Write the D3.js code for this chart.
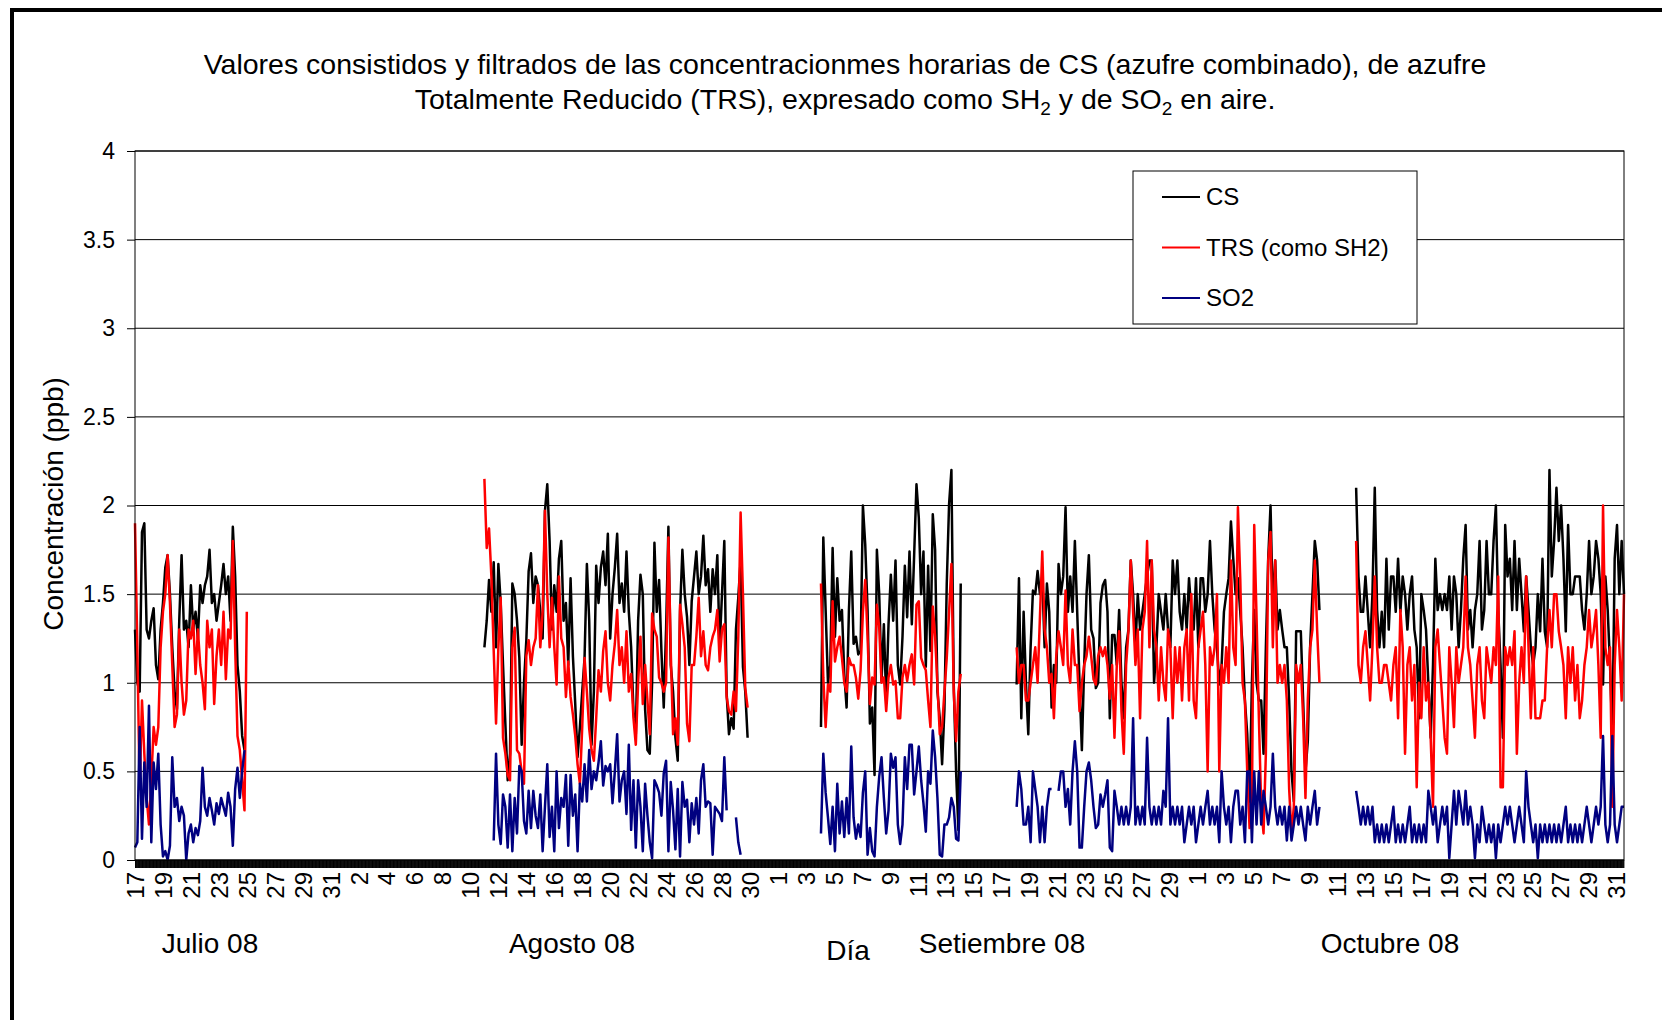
<!DOCTYPE html>
<html>
<head>
<meta charset="utf-8">
<script src="https://cdn.jsdelivr.net/npm/d3@7"></script>
<style>
  body { margin: 0; background: #fff; }
  svg { display: block; font-family: 'Liberation Sans', Arial, sans-serif; }
</style>
</head>
<body>
<svg id="chart" width="1662" height="1020"></svg>
<script>
// readings every 4 hours, one set of arrays per measuring campaign
let stepHours = 4

let csJul = [1.3,1.0,0.95,1.85,1.9,1.3,1.25,1.35,1.42,1.1,1.02,1.3,1.45,1.65,1.72,1.5,1.2,0.95,0.85,1.35,1.72,1.3,1.35,1.2,1.55,1.3,1.4,1.25,1.55,1.45,1.55,1.6,1.75,1.45,1.5,1.35,1.45,1.55,1.67,1.5,1.6,1.35,1.88,1.6,1.1,0.95,0.7,0.62,null]
let trsJul = [1.9,1.2,0.4,0.9,0.6,0.35,0.2,0.45,0.75,0.65,0.75,1.2,1.4,1.5,1.72,1.45,1.1,0.75,0.82,1.3,1.0,0.82,0.9,1.3,1.25,1.35,1.05,1.3,1.1,1.0,0.85,1.35,1.2,1.3,0.88,1.15,1.3,1.1,1.4,1.02,1.3,1.25,1.8,1.2,0.7,0.62,0.45,0.28,1.4]
let so2Jul = [0.07,0.1,0.75,0.12,0.55,0.3,0.87,0.1,0.55,0.4,0.6,0.2,0.02,0.05,0.0,0.08,0.58,0.3,0.35,0.22,0.3,0.25,0.0,0.15,0.2,0.1,0.18,0.14,0.22,0.52,0.3,0.25,0.35,0.28,0.2,0.32,0.26,0.35,0.3,0.25,0.38,0.3,0.08,0.4,0.52,0.35,0.5,0.62,null]

let csAug = [1.2,1.35,1.58,1.4,1.68,1.2,1.67,1.45,1.1,0.77,
  0.45,0.6,1.56,1.5,1.35,1.14,0.65,1.0,1.24,1.63,
  1.73,1.45,1.6,1.55,1.4,1.25,1.97,2.12,1.8,1.3,
  1.55,1.4,1.7,1.8,1.35,1.45,1.1,1.59,1.15,0.88,
  0.58,0.75,0.95,1.14,1.67,1.35,0.65,0.95,1.66,1.45,
  1.65,1.74,1.55,1.84,1.25,1.5,1.65,1.84,1.45,1.56,
  1.4,1.74,1.4,1.2,0.84,0.71,1.35,1.61,1.5,0.85,
  0.62,0.6,1.0,1.79,1.4,1.58,1.18,0.86,1.3,1.88,
  1.1,0.95,0.69,0.56,1.4,1.75,1.5,1.37,1.1,1.46,
  1.6,1.74,1.5,1.6,1.83,1.55,1.64,1.4,1.64,1.5,
  1.72,1.2,1.5,1.8,0.94,0.71,0.8,0.74,1.3,1.48,
  1.69,1.09,0.95,0.69]
let trsAug = [2.15,1.76,1.87,1.6,1.18,0.77,1.2,1.48,0.69,0.6,
  0.48,0.45,1.2,1.31,0.62,0.6,0.5,0.43,1.15,1.24,
  1.1,1.2,1.25,1.55,1.2,1.4,1.97,1.5,1.2,1.48,
  1.2,0.99,1.6,1.25,1.2,0.92,1.12,0.92,0.82,0.7,
  0.54,0.43,0.75,1.14,0.95,0.74,0.62,0.56,0.8,1.07,
  0.95,1.18,1.29,1.0,0.9,1.1,1.22,1.41,1.1,1.2,
  1.0,1.29,0.95,1.05,0.8,0.65,1.0,1.26,0.88,1.1,
  0.9,0.71,1.39,1.3,1.26,1.03,1.0,0.95,1.0,1.82,
  1.18,0.71,0.8,0.65,1.44,1.33,1.2,0.77,0.67,1.1,
  1.1,1.26,1.48,1.15,1.29,1.1,1.07,1.2,1.26,1.3,
  1.41,1.12,1.3,1.33,0.92,0.84,0.82,0.95,0.84,1.26,
  1.96,1.5,0.97,0.86]
let so2Aug = [null,null,null,null,0.11,0.6,0.2,0.09,0.37,0.3,
  0.07,0.37,0.05,0.35,0.15,0.53,0.5,0.22,0.15,0.39,
  0.18,0.39,0.25,0.18,0.37,0.05,0.3,0.54,0.13,0.3,
  0.05,0.5,0.18,0.35,0.3,0.48,0.08,0.48,0.25,0.37,
  0.05,0.43,0.33,0.54,0.33,0.62,0.4,0.5,0.45,0.55,
  0.67,0.42,0.53,0.5,0.54,0.32,0.5,0.71,0.33,0.45,
  0.5,0.26,0.65,0.17,0.45,0.07,0.45,0.3,0.05,0.43,
  0.25,0.1,0.01,0.45,0.42,0.38,0.25,0.49,0.56,0.05,
  0.44,0.28,0.06,0.4,0.02,0.44,0.3,0.34,0.1,0.32,
  0.2,0.35,0.15,0.45,0.54,0.3,0.33,0.32,0.03,0.3,
  0.28,0.26,0.22,0.58,0.28,null,null,null,0.24,0.1,
  0.03,null,null,null]

let csSep1 = [0.75,1.82,1.41,1.0,1.1,1.76,1.26,1.59,1.35,1.41,
  1.05,0.86,1.41,1.74,1.22,1.26,1.16,1.18,2.0,1.78,
  1.41,0.77,0.86,0.48,1.75,1.5,1.01,1.33,0.9,1.33,
  1.61,1.35,1.69,1.1,0.99,1.26,1.66,1.37,1.74,1.33,
  1.72,2.12,1.93,1.5,1.74,1.09,1.66,1.18,1.95,1.75,
  0.95,0.8,0.54,0.85,1.56,2.01,2.2,0.99,0.5,0.17,
  1.56]
let trsSep1 = [1.56,1.03,0.75,0.99,0.95,1.46,1.12,1.2,1.26,1.14,
  1.0,0.95,1.14,1.1,1.1,1.03,0.91,1.07,1.4,1.58,
  1.26,0.88,1.03,0.99,1.44,1.31,1.0,1.03,0.84,1.03,
  1.1,0.99,1.01,0.8,0.8,1.03,1.1,1.01,1.1,1.16,
  0.99,1.44,1.46,1.14,1.1,1.07,0.9,0.75,1.43,1.26,
  0.99,0.71,0.75,0.95,1.14,1.4,1.67,0.95,0.67,0.95,
  1.05]
let so2Sep1 = [0.15,0.6,0.38,0.24,0.09,0.3,0.05,0.43,0.15,0.33,
  0.13,0.35,0.15,0.64,0.24,0.12,0.2,0.13,0.38,0.5,
  0.03,0.18,0.05,0.02,0.3,0.47,0.58,0.35,0.15,0.28,
  0.6,0.52,0.58,0.2,0.09,0.2,0.58,0.4,0.65,0.65,
  0.37,0.5,0.64,0.45,0.32,0.16,0.5,0.43,0.73,0.58,
  0.35,0.03,0.02,0.2,0.2,0.24,0.35,0.3,0.12,0.11,
  0.5]

let csSep2 = [0.99,1.59,0.8,1.4,1.0,0.71,1.2,1.52,1.5,1.63,
  1.5,1.6,1.2,1.56,1.4,0.86,1.1,1.0,1.67,1.5,
  1.6,1.99,1.4,1.6,1.4,1.8,1.4,1.0,0.62,1.1,
  1.5,1.72,1.3,1.25,0.97,1.0,1.45,1.55,1.58,1.4,
  0.8,1.27,1.27,1.1,1.41,1.0,0.8,1.2,1.3,1.69,
  1.5,1.2,1.5,1.3,1.4,1.5,1.6,1.69,1.69,1.0,
  1.2,1.5,1.4,1.3,1.5,1.3,1.2,1.69,1.5,1.69,
  1.4,1.3,1.5,1.3,1.59,1.4,1.3,1.59,1.2,1.59,
  1.59,1.4,1.5,1.8,1.5,1.3,1.2,0.99,1.1,1.4,
  1.5,1.59,1.91,1.7,1.5,1.59,1.4,1.2,0.9,0.71,
  0.33,1.0,1.41,1.0,0.9,0.9,0.6,1.2,1.7,2.0,
  1.41,1.69,1.3,1.41,1.3,1.2,1.2,0.9,0.5,0.33,
  1.29,1.29,1.29,0.9,0.5,0.67,1.2,1.5,1.8,1.69,
  1.41]
let trsSep2 = [1.2,1.0,1.1,1.1,0.9,0.9,1.0,1.1,1.2,1.0,
  1.37,1.74,1.3,1.2,1.0,1.05,0.8,1.15,1.29,1.2,
  1.1,1.52,1.1,1.0,1.3,1.1,1.1,0.84,1.0,1.1,
  1.15,1.26,1.15,1.02,0.99,1.15,1.2,1.15,1.2,1.1,
  0.91,1.1,0.69,1.1,1.29,0.84,0.6,1.1,1.29,1.69,
  1.4,1.1,1.3,0.8,1.3,1.4,1.8,1.2,1.69,1.3,
  1.2,0.9,1.2,1.0,0.9,1.3,1.2,0.8,1.2,1.0,
  1.2,0.9,1.2,1.3,0.9,1.5,0.9,0.8,1.2,1.3,
  1.4,1.1,0.5,1.2,1.1,1.2,1.5,0.5,1.1,1.0,
  1.2,1.0,1.69,1.2,1.1,1.99,1.59,1.0,0.9,0.5,
  0.18,0.3,1.89,1.37,0.8,0.3,0.15,0.6,1.69,1.85,
  1.2,1.69,1.0,1.1,1.0,1.1,0.9,0.4,0.15,0.3,
  1.1,1.0,1.1,0.8,0.35,0.9,1.2,1.3,1.69,1.3,
  1.0]
let so2Sep2 = [0.3,0.5,0.4,0.2,0.2,0.3,0.1,0.5,0.4,0.3,
  0.1,0.3,0.1,0.3,0.4,0.4,null,null,0.39,0.5,
  0.5,0.3,0.4,0.2,0.5,0.67,0.5,0.07,0.07,0.3,
  0.5,0.55,0.45,0.3,0.18,0.2,0.37,0.3,0.37,0.45,
  0.07,0.05,0.39,0.3,0.2,0.3,0.2,0.3,0.2,0.3,
  0.8,0.2,0.3,0.2,0.3,0.2,0.69,0.3,0.2,0.3,
  0.2,0.3,0.2,0.39,0.3,0.8,0.2,0.3,0.2,0.3,
  0.2,0.3,0.1,0.2,0.3,0.2,0.3,0.1,0.2,0.3,
  0.2,0.3,0.39,0.2,0.3,0.2,0.3,0.1,0.5,0.3,
  0.2,0.3,0.1,0.3,0.39,0.39,0.2,0.3,0.1,0.5,
  0.5,0.1,0.5,0.2,0.5,0.2,0.39,0.3,0.2,0.3,
  0.6,0.3,0.2,0.3,0.2,0.3,0.11,0.3,0.11,0.2,
  0.3,0.2,0.3,0.2,0.11,0.3,0.2,0.3,0.39,0.2,
  0.3]

let csOct = [2.1,1.6,1.4,1.4,1.6,1.4,1.2,1.5,2.1,1.41,
  1.2,1.4,1.2,1.7,1.3,1.6,1.6,1.4,1.7,1.4,
  1.6,1.5,1.3,1.5,1.6,1.3,1.2,0.8,1.5,1.41,
  1.3,1.0,0.69,1.1,1.7,1.41,1.5,1.41,1.5,1.41,
  1.6,1.3,1.6,1.5,1.2,1.41,1.7,1.89,1.3,1.41,
  1.2,1.41,1.5,1.8,1.3,1.41,1.8,1.5,1.5,1.8,
  2.0,1.41,1.1,0.69,1.89,1.6,1.7,1.41,1.8,1.41,
  1.7,1.5,1.29,1.6,1.41,1.2,1.1,1.2,1.5,1.29,
  1.7,1.29,1.2,2.2,1.6,1.8,2.1,1.8,2.0,1.7,
  1.29,1.89,1.5,1.5,1.6,1.6,1.6,1.41,1.3,1.5,
  1.8,1.5,1.6,1.8,1.7,1.5,0.99,1.6,1.41,1.1,
  0.69,1.7,1.89,1.5,1.8,1.5]
let trsOct = [1.8,1.1,1.0,1.2,1.29,1.1,0.9,1.2,1.6,1.2,
  1.0,1.0,1.1,1.1,1.0,0.9,1.1,1.2,0.8,1.41,
  1.2,0.6,1.1,1.2,0.9,1.1,0.41,1.0,0.8,1.2,
  0.9,1.0,0.69,0.3,1.2,1.3,1.1,0.9,0.69,0.6,
  1.2,1.0,0.75,1.2,1.0,1.1,1.2,1.6,1.2,1.1,
  0.9,0.69,1.1,1.2,0.9,0.8,1.2,1.1,1.0,1.2,
  1.1,1.6,0.41,0.41,1.2,1.1,1.2,1.1,1.29,0.6,
  1.0,1.2,1.0,1.6,1.2,0.8,1.2,0.8,0.8,0.8,
  0.9,0.9,1.2,1.41,1.2,1.5,1.5,1.29,1.2,1.1,
  0.8,1.2,1.0,1.2,0.9,1.1,0.8,0.9,1.1,1.2,
  1.41,1.2,1.29,1.41,1.1,0.69,2.0,1.2,1.1,1.2,
  0.3,1.1,1.41,1.2,0.9,1.5]
let so2Oct = [0.39,0.3,0.2,0.3,0.2,0.3,0.2,0.3,0.1,0.2,
  0.1,0.2,0.1,0.2,0.1,0.2,0.3,0.1,0.2,0.1,
  0.2,0.1,0.2,0.3,0.1,0.2,0.1,0.2,0.1,0.2,
  0.1,0.39,0.3,0.2,0.3,0.1,0.2,0.3,0.2,0.3,
  0.01,0.2,0.39,0.2,0.39,0.3,0.2,0.39,0.2,0.3,
  0.2,0.01,0.2,0.1,0.3,0.2,0.1,0.2,0.1,0.2,
  0.01,0.2,0.1,0.2,0.3,0.2,0.3,0.2,0.1,0.2,
  0.3,0.2,0.1,0.5,0.3,0.2,0.1,0.2,0.01,0.2,
  0.1,0.2,0.1,0.2,0.1,0.2,0.1,0.2,0.1,0.2,
  0.3,0.1,0.2,0.1,0.2,0.1,0.2,0.1,0.2,0.3,
  0.2,0.1,0.2,0.3,0.2,0.3,0.7,0.2,0.1,0.2,
  0.7,0.2,0.1,0.2,0.3,0.3]

// first reading of each campaign (UTC)
let segStarts = ['2008-07-17T00:00Z', '2008-08-11T00:00Z', '2008-09-04T02:00Z', '2008-09-18T02:00Z', '2008-10-12T09:00Z']

let seriesNames = ['CS', 'TRS (como SH2)', 'SO2']
let seriesColors = ['#000000', '#ff0000', '#000080']

let monthLabels = ['Julio 08', 'Agosto 08', 'Setiembre 08', 'Octubre 08']
let yTicks = [0, 0.5, 1, 1.5, 2, 2.5, 3, 3.5, 4]

let segments = [
  [csJul, trsJul, so2Jul],
  [csAug, trsAug, so2Aug],
  [csSep1, trsSep1, so2Sep1],
  [csSep2, trsSep2, so2Sep2],
  [csOct, trsOct, so2Oct]
]

let margin = { top: 151, left: 135, right: 38, bottom: 160 }
let width = 1662
let height = 1020

let svg = d3.select('#chart')

let xStart = new Date(Date.UTC(2008, 6, 17))
let xEnd = new Date(Date.UTC(2008, 9, 31, 13))

let x = d3.scaleUtc()
  .domain([xStart, xEnd])
  .range([margin.left, width - margin.right])

let y = d3.scaleLinear()
  .domain([0, 4])
  .range([height - margin.bottom, margin.top])

// build one long series per pollutant, with breaks between campaigns
let series = seriesNames.map((name, k) => {
  let pts = []
  segments.forEach((seg, s) => {
    let t0 = new Date(segStarts[s])
    seg[k].forEach((v, i) => {
      pts.push({ date: d3.utcHour.offset(t0, i * stepHours), v: v })
    })
    pts.push({ date: null, v: null })
  })
  return { name: name, color: seriesColors[k], values: pts }
})

// outer frame
svg.append('rect')
  .attr('x', 12).attr('y', 10)
  .attr('width', 1700).attr('height', 1100)
  .attr('fill', 'none')
  .attr('stroke', '#000')
  .attr('stroke-width', 4)

// title
let title = svg.append('g')
  .attr('font-size', 28.5)
  .attr('text-anchor', 'middle')

title.append('text')
  .attr('x', 845).attr('y', 74)
  .text('Valores consistidos y filtrados de las concentracionmes horarias de CS (azufre combinado), de azufre')

let t2 = title.append('text').attr('x', 845).attr('y', 109)
t2.append('tspan').text('Totalmente Reducido (TRS), expresado como SH')
t2.append('tspan').attr('font-size', 19).attr('dy', 6).text('2')
t2.append('tspan').attr('dy', -6).text(' y de SO')
t2.append('tspan').attr('font-size', 19).attr('dy', 6).text('2')
t2.append('tspan').attr('dy', -6).text(' en aire.')

// gridlines
svg.append('g')
  .selectAll('line')
  .data(yTicks)
  .enter()
  .append('line')
  .attr('x1', x.range()[0])
  .attr('x2', x.range()[1])
  .attr('y1', d => y(d))
  .attr('y2', d => y(d))
  .attr('stroke', '#000')
  .attr('stroke-width', 1)

// y axis
let yAxis = svg.append('g')
  .attr('transform', `translate(${margin.left},0)`)
  .call(d3.axisLeft(y).tickValues(yTicks).tickSize(8).tickPadding(12).tickFormat(d => String(d)))

yAxis.select('.domain').remove()
yAxis.selectAll('line').attr('stroke', '#000')
yAxis.selectAll('text')
  .attr('font-size', 23)
  .attr('font-family', "'Liberation Sans', Arial, sans-serif")
  .attr('fill', '#000')

// lines
let line = d3.line()
  .defined(d => d.v != null)
  .x(d => x(d.date))
  .y(d => y(d.v))

svg.append('g')
  .selectAll('path')
  .data(series)
  .enter()
  .append('path')
  .attr('d', d => line(d.values))
  .attr('fill', 'none')
  .attr('stroke', d => d.color)
  .attr('stroke-width', 2.5)
  .attr('stroke-linejoin', 'round')

// hourly ticks make the black band under the plot
let bandAxis = svg.append('g')
  .attr('transform', `translate(0,${y(0)})`)
  .call(d3.axisBottom(x).tickValues(d3.utcHour.range(xStart, xEnd)).tickSize(8).tickFormat(''))
bandAxis.select('.domain').remove()
bandAxis.selectAll('line').attr('stroke', '#000')

// day labels every 2 days
let dayTicks = d3.utcDay.range(xStart, xEnd).filter((d, i) => i % 2 === 0)
let dayAxis = svg.append('g')
  .attr('transform', `translate(0,${y(0)})`)
  .call(d3.axisBottom(x).tickValues(dayTicks).tickSize(0).tickFormat(d3.utcFormat('%-d')))
dayAxis.select('.domain').remove()
dayAxis.selectAll('text')
  .attr('font-size', 24)
  .attr('font-family', "'Liberation Sans', Arial, sans-serif")
  .attr('fill', '#000')
  .attr('x', -12)
  .attr('y', 0)
  .attr('dy', '0.35em')
  .attr('transform', 'rotate(-90)')
  .style('text-anchor', 'end')

// plot border
svg.append('rect')
  .attr('x', x.range()[0])
  .attr('y', y(4))
  .attr('width', x.range()[1] - x.range()[0])
  .attr('height', y(0) - y(4))
  .attr('fill', 'none')
  .attr('stroke', '#000')
  .attr('stroke-width', 1)

// month labels and axis titles
let monthX = [210, 572, 1002, 1390]
svg.append('g')
  .selectAll('text')
  .data(monthLabels)
  .enter()
  .append('text')
  .attr('x', (d, i) => monthX[i])
  .attr('y', 953)
  .attr('text-anchor', 'middle')
  .attr('font-size', 28)
  .text(d => d)

svg.append('text')
  .attr('x', 848).attr('y', 960)
  .attr('text-anchor', 'middle')
  .attr('font-size', 28)
  .text('Día')

svg.append('text')
  .attr('transform', 'translate(63,504) rotate(-90)')
  .attr('text-anchor', 'middle')
  .attr('font-size', 28)
  .text('Concentración (ppb)')

// legend
let legend = svg.append('g').attr('transform', 'translate(1133,171)')
legend.append('rect')
  .attr('width', 284).attr('height', 153)
  .attr('fill', '#fff')
  .attr('stroke', '#000')
  .attr('stroke-width', 1)

let items = legend.selectAll('.item')
  .data(series)
  .enter()
  .append('g')
  .attr('class', 'item')
  .attr('transform', (d, i) => `translate(0,${26 + i * 50.5})`)

items.append('line')
  .attr('x1', 29).attr('x2', 67)
  .attr('stroke', d => d.color)
  .attr('stroke-width', 2)

items.append('text')
  .attr('x', 73)
  .attr('dy', '0.35em')
  .attr('font-size', 24)
  .text(d => d.name)
</script>
</body>
</html>
